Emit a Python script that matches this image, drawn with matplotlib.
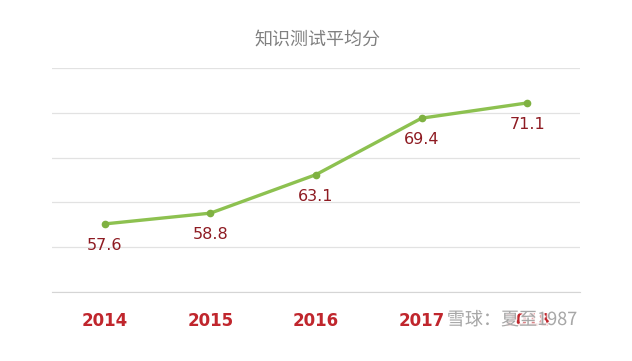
import matplotlib.pyplot as plt
import matplotlib.patheffects as pe

plt.rcParams['font.family'] = ['Noto Sans CJK SC', 'DejaVu Sans']

# data
years = ['2014', '2015', '2016', '2017', '2018']
scores = [57.6, 58.8, 63.1, 69.4, 71.1]
title = '知识测试平均分'
watermark = '雪球：夏至1987'

fig = plt.figure(figsize=(6.32, 3.61), dpi=100)
ax = fig.add_axes([52 / 632, 1 - 292 / 361, 528 / 632, (292 - 68) / 361])

x = range(len(years))
ax.plot(x, scores, color='#8DC150', lw=2.4, marker='o', markersize=4.5,
        markerfacecolor='#7FB141', markeredgecolor='#7FB141', zorder=3)

for i, v in zip(x, scores):
    ax.annotate(f'{v:.1f}', (i, v), xytext=(0, -15.5), textcoords='offset points',
                ha='center', va='center', fontsize=11.5, color='#8E1B22',
                family=['DejaVu Sans'])

ax.set_xlim(-0.5, len(years) - 0.5)
ax.set_ylim(50, 75)
ax.set_yticks([50, 55, 60, 65, 70, 75])
ax.yaxis.grid(True, color='#E2E2E2', lw=0.9)
ax.set_axisbelow(True)
ax.tick_params(axis='y', left=False, labelleft=False)
ax.tick_params(axis='x', bottom=False, pad=11)
ax.set_xticks(list(x))
ax.set_xticklabels(years, fontsize=12, fontweight='bold', color='#C0262D',
                   family=['DejaVu Sans'])
for s in ['top', 'right', 'left']:
    ax.spines[s].set_visible(False)
ax.spines['bottom'].set_color('#D5D5D5')

fig.text(0.503, 1 - 40 / 361, title, ha='center', va='center', fontsize=13,
         color='#808080')

fig.text(0.81, 1 - 320 / 361, watermark, ha='center', va='center', fontsize=13,
         color='#9A9A9A', alpha=0.85,
         path_effects=[pe.withStroke(linewidth=2, foreground='white')])

fig.savefig('out.png', dpi=100, facecolor='white')
